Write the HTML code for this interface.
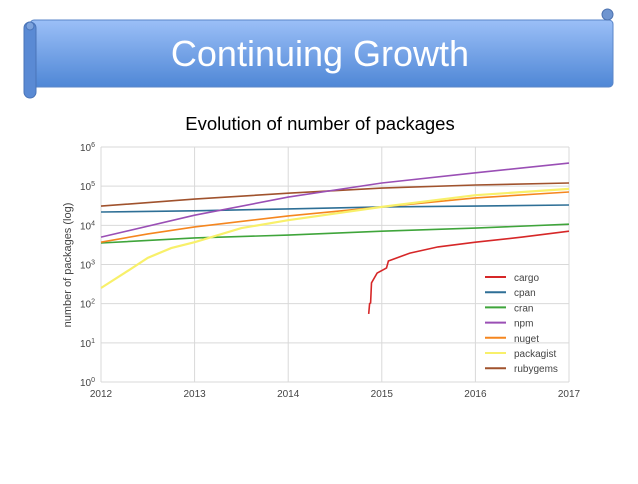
<!DOCTYPE html>
<html><head><meta charset="utf-8"><style>
body{margin:0;width:638px;height:479px;background:#fff;overflow:hidden;font-family:"Liberation Sans",sans-serif}
</style></head><body>
<svg width="638" height="479" xmlns="http://www.w3.org/2000/svg">
<defs><linearGradient id="bg" x1="0" y1="0" x2="0" y2="1"><stop offset="0" stop-color="#9bbff7"/><stop offset="1" stop-color="#4f87d6"/></linearGradient></defs>
<g>
<rect x="30" y="20" width="583" height="67" rx="4" fill="url(#bg)" stroke="#5a86c8"/>
<circle cx="607.5" cy="14.5" r="5.5" fill="#6f95d0" stroke="#4f74b0"/>
<rect x="24" y="22" width="12" height="76" rx="6" fill="#5a8ad4" stroke="#4a74b8"/>
<circle cx="30" cy="26" r="4" fill="#7ca2dc" stroke="#4a74b8"/>
<text x="320" y="66" text-anchor="middle" fill="#fff" font-size="36">Continuing Growth</text>
</g>
<text x="320" y="130" text-anchor="middle" fill="#000" font-size="18.5">Evolution of number of packages</text>
<g id="chart"></g>
</svg>
<script>
const years=[2012,2013,2014,2015,2016,2017];
const yTicks=[0,1,2,3,4,5,6];
const seriesNames=["cargo","cpan","cran","npm","nuget","packagist","rubygems"];
const colors=["#d62728","#2e6f96","#3fa53b","#9a4fb5","#f5861f","#f8f06a","#a0522d"];
const cargoX=[2014.86,2014.87,2014.88,2014.89,2014.95,2015.05,2015.07,2015.3,2015.6,2016,2016.5,2017];
const cargoY=[1.74,2.0,2.02,2.53,2.78,2.91,3.09,3.29,3.45,3.57,3.7,3.85];
const cpanX=[2012,2013,2014,2015,2016,2017];
const cpanY=[4.34,4.37,4.42,4.47,4.49,4.52];
const cranX=[2012,2013,2014,2015,2016,2017];
const cranY=[3.55,3.68,3.75,3.85,3.93,4.03];
const npmX=[2012,2013,2014,2015,2016,2017];
const npmY=[3.7,4.26,4.72,5.08,5.34,5.59];
const nugetX=[2012,2012.5,2013,2014,2015,2016,2017];
const nugetY=[3.57,3.78,3.96,4.24,4.47,4.7,4.85];
const packagistX=[2012,2012.25,2012.5,2012.75,2013,2013.5,2014,2015,2016,2017];
const packagistY=[2.4,2.78,3.17,3.42,3.57,3.93,4.13,4.47,4.77,4.93];
const rubygemsX=[2012,2013,2014,2015,2016,2017];
const rubygemsY=[4.49,4.67,4.82,4.95,5.03,5.08];
const seriesX=[cargoX,cpanX,cranX,npmX,nugetX,packagistX,rubygemsX];
const seriesY=[cargoY,cpanY,cranY,npmY,nugetY,packagistY,rubygemsY];
const L=101,R=569,T=147,B=382;
const xs=v=>L+(v-2012)/(2017-2012)*(R-L);
const ys=v=>B-v/6*(B-T);
const NS="http://www.w3.org/2000/svg";
const g=document.getElementById('chart');
function mk(t,a){const e=document.createElementNS(NS,t);for(const k in a)e.setAttribute(k,a[k]);g.appendChild(e);return e;}
yTicks.forEach(v=>{
 const l=mk('line',{x1:L,x2:R,y1:ys(v),y2:ys(v),stroke:'#d9d9d9','stroke-width':1});
 
 
 const t=mk('text',{x:L-6,y:ys(v)+4,'text-anchor':'end','font-size':10,fill:'#444'});
 
 
 t.innerHTML='10<tspan dy="-4" font-size="7">'+v+'</tspan>';
});
years.forEach(v=>{
 const l=mk('line',{x1:xs(v),x2:xs(v),y1:T,y2:B,stroke:'#d9d9d9','stroke-width':1});
 
 
 const t=mk('text',{x:xs(v),y:B+15,'text-anchor':'middle','font-size':10,fill:'#444'});
 
 
 t.textContent=v;
});
const yl=mk('text',{x:0,y:0,transform:'translate(71,265) rotate(-90)','text-anchor':'middle','font-size':11,fill:'#444'});


yl.textContent='number of packages (log)';
const order=[2,1,4,5,6,3,0];
order.forEach(i=>{
 const d=seriesX[i].map((x,j)=>(j?'L':'M')+xs(x).toFixed(1)+','+ys(seriesY[i][j]).toFixed(1)).join(' ');
 const p=mk('path',{d:d,fill:'none',stroke:colors[i],'stroke-width':i==5?2.2:1.6});
 
 
});
seriesNames.forEach((n,i)=>{
 const y=277+i*15.2;
 const l=mk('line',{x1:485,x2:506,y1:y,y2:y,stroke:colors[i],'stroke-width':2});
 
 
 const t=mk('text',{x:514,y:y+4,'font-size':10,fill:'#444'});
 
 
 t.textContent=n;
});
</script>
</body></html>
